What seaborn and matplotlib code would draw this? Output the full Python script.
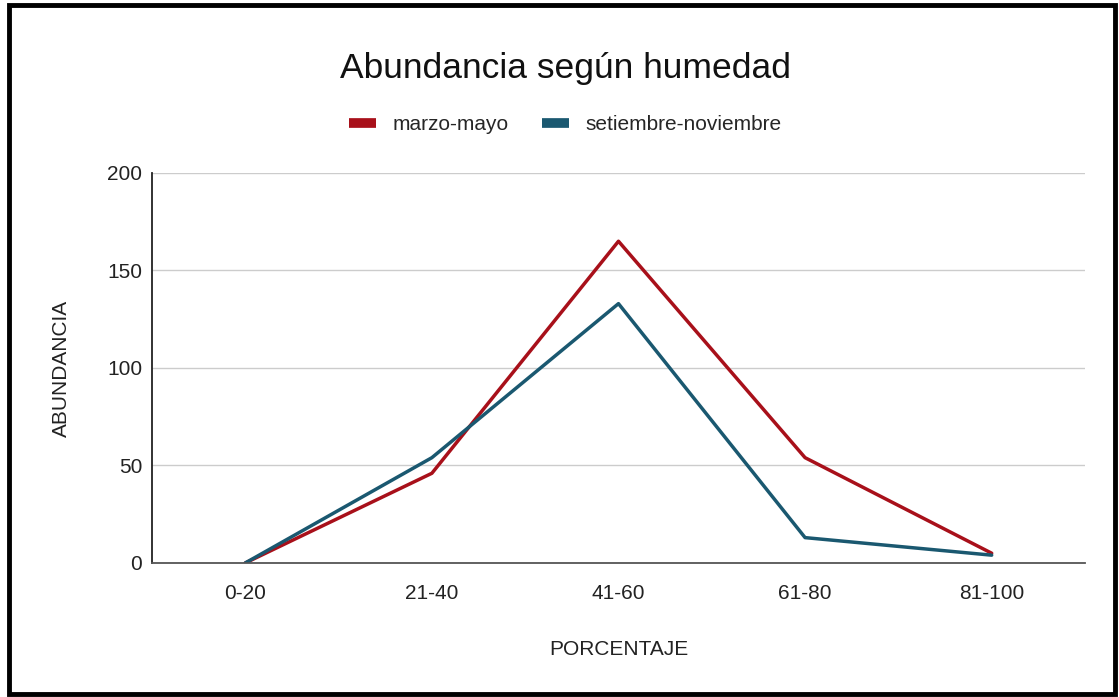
import matplotlib
matplotlib.use('Agg')
import matplotlib.pyplot as plt
from matplotlib.patches import Rectangle
import pandas as pd
import seaborn as sns

categorias = ['0-20', '21-40', '41-60', '61-80', '81-100']
marzo_mayo = [0, 46, 165, 54, 5]
setiembre_noviembre = [0, 54, 133, 13, 4]
series = ['marzo-mayo', 'setiembre-noviembre']
colores = ['#A8101A', '#1A5870']

df = pd.DataFrame({
    'PORCENTAJE': categorias * 2,
    'ABUNDANCIA': marzo_mayo + setiembre_noviembre,
    'serie': [series[0]] * len(categorias) + [series[1]] * len(categorias),
})

sns.set_style('white')
plt.rcParams['font.family'] = ['Liberation Sans', 'DejaVu Sans']

fig = plt.figure(figsize=(11.19, 6.97), dpi=100)
ax = fig.add_axes([0.1358, 0.1923, 0.8338, 0.5595])

sns.lineplot(data=df, x='PORCENTAJE', y='ABUNDANCIA', hue='serie',
             palette=colores, linewidth=2.5, ax=ax, legend=False, sort=False)

ax.set_xlim(-0.5, len(categorias) - 0.5)
ax.set_ylim(0, 200)
ax.set_yticks([0, 50, 100, 150, 200])
ax.yaxis.grid(True, color='#cccccc', linewidth=1)
ax.set_axisbelow(True)
for s in ['top', 'right']:
    ax.spines[s].set_visible(False)
ax.spines['left'].set_color('#222222')
ax.spines['bottom'].set_color('#555555')
ax.spines['left'].set_linewidth(1.3)
ax.spines['bottom'].set_linewidth(1.3)
ax.tick_params(axis='both', length=0, labelsize=15, colors='#222222')
ax.tick_params(axis='x', pad=15)
ax.tick_params(axis='y', pad=7)
ax.set_xlabel('PORCENTAJE', fontsize=15, labelpad=27, color='#222222')
ax.set_ylabel('ABUNDANCIA', fontsize=15, labelpad=26, color='#222222')

fig.text(0.505, 0.902, 'Abundancia según humedad', ha='center', va='center',
         fontsize=25.5, color='#111111')

handles = [plt.Line2D([], [], color=c, linewidth=7, solid_capstyle='butt') for c in colores]
fig.legend(handles, series, loc='center', bbox_to_anchor=(0.505, 0.821),
           ncol=2, frameon=False, fontsize=15, handlelength=1.3,
           columnspacing=1.6, handletextpad=0.8)

fig.patches.append(Rectangle((0.008, 0.005), 0.988, 0.988, transform=fig.transFigure,
                             fill=False, edgecolor='black', linewidth=3.5))

fig.savefig('out.png', dpi=100, facecolor='white')
